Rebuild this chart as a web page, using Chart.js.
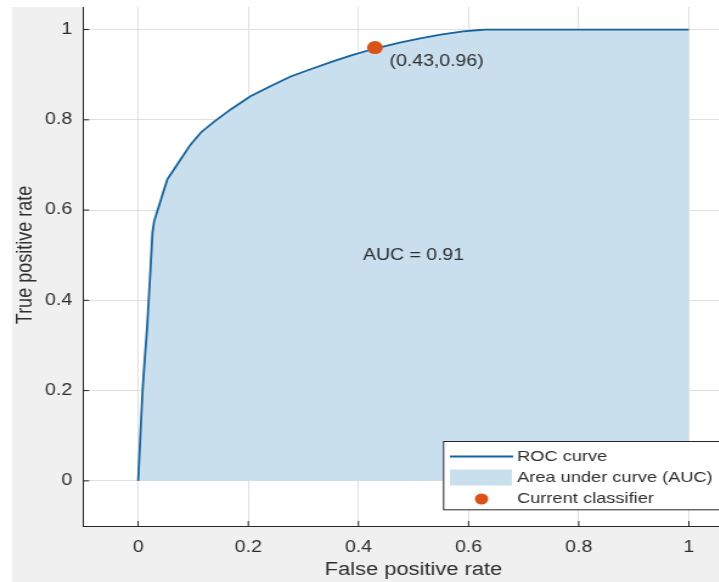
<!DOCTYPE html>
<html>
<head>
<meta charset="utf-8">
<title>ROC curve</title>
<script src="https://cdn.jsdelivr.net/npm/chart.js@4/dist/chart.umd.min.js"></script>
<style>
  html, body { margin: 0; padding: 0; background: #ffffff; overflow: hidden; }
  #wrap { position: absolute; left: 0; top: 0; width: 719px; height: 582px; overflow: hidden; }
  /* the figure is rendered narrow and widened horizontally */
  #roc { position: absolute; left: 0; top: 0; transform: scaleX(1.216); transform-origin: 0 0; }
</style>
</head>
<body>
<div id="wrap"><canvas id="roc" width="640" height="582"></canvas></div>
<script>
// ROC curve points (false positive rate, true positive rate)
const fpr = [0, 0.004, 0.008, 0.012, 0.016, 0.022, 0.026, 0.029, 0.038, 0.047, 0.053,
             0.065, 0.077, 0.095, 0.114, 0.137, 0.168, 0.204, 0.241, 0.277, 0.313,
             0.355, 0.39, 0.43, 0.475, 0.51, 0.549, 0.59, 0.62, 0.63, 1];
const tpr = [0, 0.1, 0.2, 0.27, 0.335, 0.46, 0.55, 0.575, 0.61, 0.645, 0.668,
             0.69, 0.712, 0.745, 0.772, 0.795, 0.823, 0.852, 0.875, 0.896, 0.912,
             0.93, 0.944, 0.958, 0.971, 0.98, 0.989, 0.996, 0.999, 1, 1];

// operating point of the current classifier
const classifierFpr = [0.43];
const classifierTpr = [0.96];

const aucValue = 0.91;

const xTicks = [0, 0.2, 0.4, 0.6, 0.8, 1];
const yTicks = [0, 0.2, 0.4, 0.6, 0.8, 1];

const legendLabels = ['ROC curve', 'Area under curve (AUC)', 'Current classifier'];

const COLOR_LINE = '#17649c';
const COLOR_AREA = '#c9dfee';
const COLOR_POINT = '#d95319';
const COLOR_AXIS = '#262626';
const COLOR_TEXT = '#2e2e2e';
const FONT = "'Liberation Sans', Arial, Helvetica, sans-serif";

const rocPoints = fpr.map((x, i) => ({ x: x, y: tpr[i] }));
const classifierPoints = classifierFpr.map((x, i) => ({ x: x, y: classifierTpr[i] }));

Chart.defaults.font.family = FONT;

function fixedTicks(values) {
  return function (axis) { axis.ticks = values.map(v => ({ value: v })); };
}

const figurePlugin = {
  id: 'figure',
  beforeDraw(chart) {
    const { ctx, width, height, chartArea: a } = chart;
    ctx.save();
    ctx.fillStyle = '#ffffff';
    ctx.fillRect(0, 0, width, height);
    ctx.fillStyle = '#f0f0f0';
    ctx.fillRect(9.9, 7, width, height);
    ctx.fillStyle = '#ffffff';
    ctx.fillRect(a.left, a.top, a.right - a.left, a.bottom - a.top);
    ctx.restore();
  },
  afterDraw(chart) {
    const { ctx, chartArea: a, scales: { x, y } } = chart;
    ctx.save();

    // inward tick marks
    ctx.strokeStyle = COLOR_AXIS;
    ctx.lineWidth = 1;
    ctx.beginPath();
    xTicks.forEach(v => {
      const px = x.getPixelForValue(v);
      ctx.moveTo(px, a.bottom);
      ctx.lineTo(px, a.bottom - 5);
    });
    yTicks.forEach(v => {
      const py = y.getPixelForValue(v);
      ctx.moveTo(a.left, py);
      ctx.lineTo(a.left + 5, py);
    });
    ctx.stroke();

    // y axis title
    ctx.fillStyle = COLOR_TEXT;
    ctx.font = '18px ' + FONT;
    ctx.textAlign = 'center';
    ctx.textBaseline = 'middle';
    ctx.save();
    ctx.translate(20.6, 255);
    ctx.rotate(-Math.PI / 2);
    ctx.fillText('True positive rate', 0, 0);
    ctx.restore();

    // annotations
    ctx.font = '16px ' + FONT;
    ctx.fillText('AUC = ' + aucValue.toFixed(2), x.getPixelForValue(0.5), y.getPixelForValue(0.5));
    ctx.textAlign = 'left';
    ctx.fillText('(' + classifierFpr[0].toFixed(2) + ',' + classifierTpr[0].toFixed(2) + ')',
      x.getPixelForValue(classifierFpr[0]) + 12, y.getPixelForValue(classifierTpr[0]) + 14);

    // legend
    const lx = 364.3, ly = 441, lw = 236, lh = 68.3;
    ctx.fillStyle = '#ffffff';
    ctx.fillRect(lx, ly, lw, lh);
    ctx.strokeStyle = COLOR_AXIS;
    ctx.lineWidth = 1;
    ctx.strokeRect(lx + 0.5, ly + 0.5, lw, lh);

    const rows = [456.5, 477.5, 499];
    ctx.strokeStyle = COLOR_LINE;
    ctx.lineWidth = 2.2;
    ctx.beginPath();
    ctx.moveTo(370, rows[0]);
    ctx.lineTo(422, rows[0]);
    ctx.stroke();

    ctx.fillStyle = COLOR_AREA;
    ctx.fillRect(370, rows[1] - 8, 51, 16);

    ctx.fillStyle = COLOR_POINT;
    ctx.beginPath();
    ctx.arc(396, rows[2], 5.5, 0, Math.PI * 2);
    ctx.fill();

    ctx.fillStyle = COLOR_TEXT;
    ctx.font = '15px ' + FONT;
    ctx.textAlign = 'left';
    ctx.textBaseline = 'middle';
    legendLabels.forEach((t, i) => ctx.fillText(t, 425.2, rows[i]));

    ctx.restore();
  }
};

new Chart(document.getElementById('roc'), {
  type: 'scatter',
  data: {
    datasets: [
      {
        label: legendLabels[2],
        data: classifierPoints,
        pointRadius: 6.5,
        pointBackgroundColor: COLOR_POINT,
        pointBorderWidth: 0,
        order: 0
      },
      {
        label: legendLabels[0],
        data: rocPoints,
        showLine: true,
        borderColor: COLOR_LINE,
        borderWidth: 1.8,
        pointRadius: 0,
        fill: false,
        tension: 0,
        order: 1
      },
      {
        label: legendLabels[1],
        data: rocPoints,
        showLine: true,
        borderWidth: 0,
        borderColor: 'rgba(0,0,0,0)',
        backgroundColor: COLOR_AREA,
        pointRadius: 0,
        fill: 'origin',
        tension: 0,
        order: 2
      }
    ]
  },
  options: {
    responsive: false,
    animation: false,
    events: [],
    layout: { padding: { left: 0, top: 7, right: 28.2, bottom: 0 } },
    plugins: { legend: { display: false }, tooltip: { enabled: false } },
    scales: {
      x: {
        type: 'linear',
        min: -0.1,
        max: 1.1,
        afterBuildTicks: fixedTicks(xTicks),
        afterFit(s) { s.height = 56; s.paddingLeft = 0; s.paddingRight = 0; },
        grid: { color: '#dfdfdf', lineWidth: 1, drawTicks: false },
        border: { display: true, color: COLOR_AXIS, width: 1 },
        ticks: {
          color: COLOR_TEXT,
          font: { size: 16 },
          padding: 12,
          maxRotation: 0,
          callback: v => String(v)
        },
        title: {
          display: true,
          text: 'False positive rate',
          color: COLOR_TEXT,
          font: { size: 18 },
          padding: { top: 0, bottom: 1 }
        }
      },
      y: {
        type: 'linear',
        min: -0.1,
        max: 1.05,
        afterBuildTicks: fixedTicks(yTicks),
        afterFit(s) { s.width = 68.3; s.paddingTop = 0; s.paddingBottom = 0; },
        grid: { color: '#dfdfdf', lineWidth: 1, drawTicks: false },
        border: { display: true, color: COLOR_AXIS, width: 1 },
        ticks: {
          color: COLOR_TEXT,
          font: { size: 16 },
          padding: 9,
          callback: v => String(v)
        }
      }
    }
  },
  plugins: [figurePlugin]
});
</script>
</body>
</html>
